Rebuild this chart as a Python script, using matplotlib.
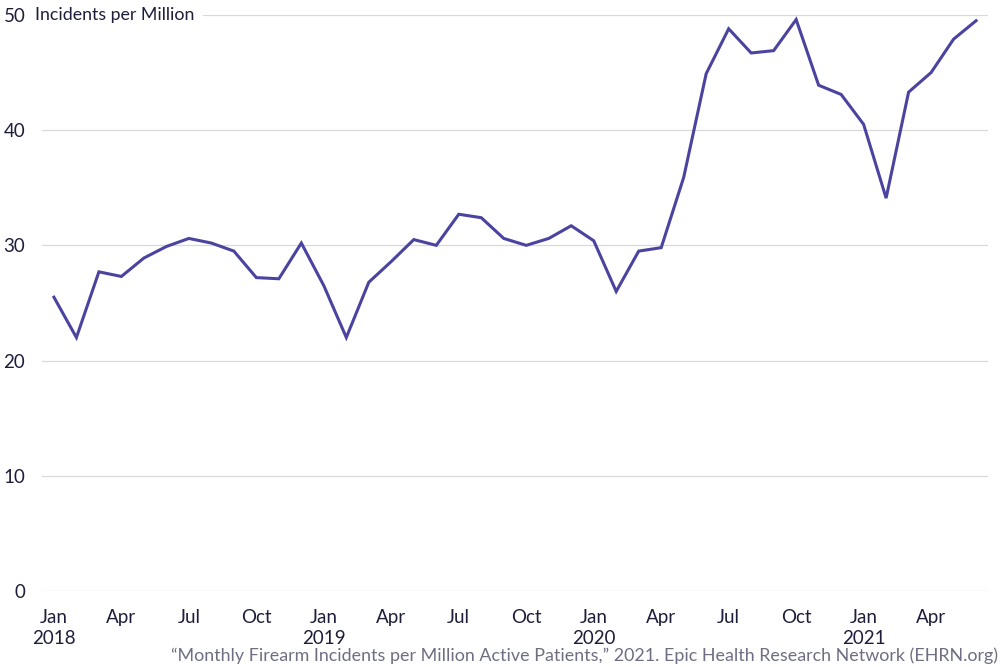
import matplotlib
matplotlib.use("Agg")
import matplotlib.pyplot as plt

# Monthly incidents per million, Jan 2018 - Jun 2021
months = ["Jan", "Feb", "Mar", "Apr", "May", "Jun", "Jul", "Aug", "Sep", "Oct", "Nov", "Dec"]
years = [2018, 2019, 2020, 2021]
values = [
    25.5, 22.0, 27.7, 27.3, 28.9, 29.9, 30.6, 30.2, 29.5, 27.2, 27.1, 30.2,
    26.5, 22.0, 26.8, 28.6, 30.5, 30.0, 32.7, 32.4, 30.6, 30.0, 30.6, 31.7,
    30.4, 26.0, 29.5, 29.8, 35.9, 44.9, 48.8, 46.7, 46.9, 49.6, 43.9, 43.1,
    40.5, 34.1, 43.3, 45.0, 47.9, 49.5,
]
yticks = [0, 10, 20, 30, 40, 50]

plt.rcParams['font.family'] = ['Lato', 'DejaVu Sans']
text_color = '#1e1e3c'

fig = plt.figure(figsize=(10, 6.67), dpi=100)
ax = fig.add_axes([0.042, 0.114, 0.946, 0.8636])

x = list(range(len(values)))
ax.plot(x, values, color='#4a44a0', lw=2.2, solid_joinstyle='miter', zorder=3)

ax.set_xlim(-0.53, len(values) - 1 + 0.53)
ax.set_ylim(0, 50)

# x ticks every quarter, year under Jan
tick_pos = [i for i in x if i % 3 == 0]
tick_lab = []
for i in tick_pos:
    m = months[i % 12]
    if i % 12 == 0:
        tick_lab.append(f"{m}\n{years[i // 12]}")
    else:
        tick_lab.append(m)
ax.set_xticks(tick_pos)
ax.set_xticklabels(tick_lab, fontsize=13.5, color=text_color, linespacing=1.25, va='top')

ax.set_yticks(yticks)
ax.set_yticklabels([str(v) for v in yticks], fontsize=13.5, color=text_color)
ax.tick_params(axis='both', length=0)
ax.tick_params(axis='y', pad=12)
ax.tick_params(axis='x', pad=13)

ax.grid(axis='y', color='#d9d9d9', lw=0.9)
ax.set_axisbelow(True)
for s in ax.spines.values():
    s.set_visible(False)

# unit label sits on the top gridline, next to the 50 tick
ax.text(0.035, 50, "Incidents per Million",
        transform=matplotlib.transforms.blended_transform_factory(fig.transFigure, ax.transData),
        fontsize=12.8, color=text_color, va='center', ha='left',
        bbox=dict(facecolor='white', edgecolor='none', pad=6))

fig.text(0.998, 0.004, "\u201cMonthly Firearm Incidents per Million Active Patients,\u201d 2021. Epic Health Research Network (EHRN.org)",
         ha='right', va='bottom', fontsize=12.85, color='#6e6e84')

fig.savefig("out.png", dpi=100)
